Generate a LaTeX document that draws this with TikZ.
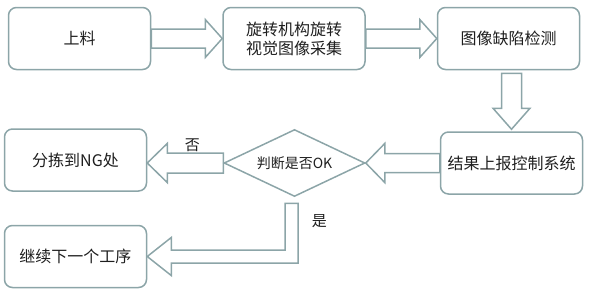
\documentclass[tikz,border=0pt]{standalone}
\usepackage{fontspec}
\setmainfont{Noto Sans CJK SC}
\usepackage{xcolor}
\usepackage{tikz}
\usetikzlibrary{positioning,calc,shapes.geometric}
\definecolor{edg}{RGB}{140,165,168}
\definecolor{txt}{RGB}{30,30,30}

\begin{document}
\begin{tikzpicture}[x=1pt,y=-1pt,line width=1.5pt,text=txt,
  font=\fontsize{16}{19}\selectfont,
  box/.style={draw=edg,rounded corners=8pt,minimum width=142pt,minimum height=62pt,align=center,inner sep=0pt},
  dec/.style={draw=edg,diamond,aspect=2.1,minimum width=141pt,minimum height=67pt,inner sep=0pt,font=\fontsize{14}{17}\selectfont},
  blk/.style={draw=edg,line join=miter},
  lbl/.style={font=\fontsize{15}{18}\selectfont,inner sep=1pt}]
  \useasboundingbox (0,0) rectangle (589,293);
  \node[box] (feed) at (79.5,38.5) {上料};
  \node[box,right=71pt of feed] (capture) {旋转机构旋转\\视觉图像采集};
  \node[box,right=71pt of capture] (detect) {图像缺陷检测};
  \node[box,below=61pt of detect,xshift=3pt] (report) {结果上报控制系统};
  \node[dec,left=74pt of report] (judge) {判断是否OK};
  \node[box,left=76pt of judge,yshift=3pt] (ng) {分拣到NG处};
  \node[box,below=33pt of ng] (next) {继续下一个工序};
  % block arrows
  \draw[blk] ($(feed.east)+(0,-9.5)$) -- ($(capture.west)+(-17,-9.5)$) -- ++(0,-9.5) -- (capture.west)
    -- ++(-17,19) -- ++(0,-9.5) -- ($(feed.east)+(0,9.5)$) -- cycle;
  \draw[blk] ($(capture.east)+(0,-9.5)$) -- ($(detect.west)+(-17,-9.5)$) -- ++(0,-9.5) -- (detect.west)
    -- ++(-17,19) -- ++(0,-9.5) -- ($(capture.east)+(0,9.5)$) -- cycle;
  \draw[blk] ($(detect.south -| report.north)+(-10,3)$) -- ($(report.north)+(-10,-23)$) -- ++(-8.5,0)
    -- ($(report.north)+(0,-2)$) -- ++(18.5,-21) -- ++(-8.5,0) -- ($(detect.south -| report.north)+(10,3)$) -- cycle;
  \draw[blk] ($(report.west)+(0,-9.5)$) -- ($(judge.east)+(19,-9.5)$) -- ++(0,-10) -- (judge.east)
    -- ++(19,19.5) -- ++(0,-10) -- ($(report.west)+(0,9.5)$) -- cycle;
  \draw[blk] ($(judge.west)+(0,-10)$) -- node[lbl,above,pos=0.55]{否} ($(ng.east |- judge.west)+(20,-10)$) -- ++(0,-9.5)
    -- (ng.east |- judge.west) -- ++(20,19.5) -- ++(0,-9.5) -- ($(judge.west)+(0,10)$) -- cycle;
  \draw[blk] ($(judge.south)+(-9.5,6)$) -- ++(13,0) |- node[lbl,pos=0.15,right=12pt]{是} ($(next.east)+(24,6.5)$)
    -- ++(0,12.5) -- (next.east) -- ++(24,-19) -- ++(0,12.5) -| ($(judge.south)+(-9.5,6)$) -- cycle;
\end{tikzpicture}
\end{document}
